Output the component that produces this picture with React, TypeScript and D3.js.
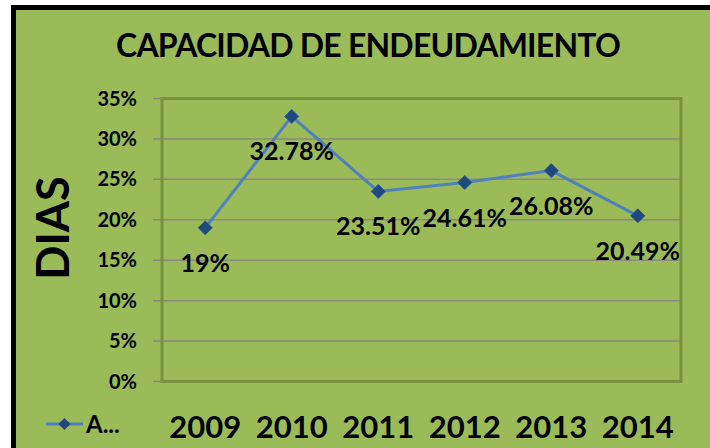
import React from "react";
import * as d3 from "d3";

const categories = ["2009", "2010", "2011", "2012", "2013", "2014"];
const values = [19, 32.78, 23.51, 24.61, 26.08, 20.49];
const valueLabels = ["19%", "32.78%", "23.51%", "24.61%", "26.08%", "20.49%"];
const yTicks = [0, 5, 10, 15, 20, 25, 30, 35];
const title = "CAPACIDAD DE ENDEUDAMIENTO";
const yTitle = "DIAS";
const legendLabel = "A...";

const W = 710;
const H = 448;
const FONT = "Lato, 'Open Sans', sans-serif";

export default function App() {
  const plot = { left: 162, top: 98.5, right: 681, bottom: 381.5 };
  const x = d3
    .scaleBand<string>()
    .domain(categories)
    .range([plot.left, plot.right])
    .padding(0);
  const y = d3.scaleLinear().domain([0, 35]).range([plot.bottom, plot.top]);
  const cx = (c: string) => (x(c) as number) + x.bandwidth() / 2;

  const line = d3
    .line<number>()
    .x((_, i) => cx(categories[i]))
    .y((d) => y(d));

  const diamond = (px: number, py: number, r: number) =>
    `M${px},${py - r}L${px + r},${py}L${px},${py + r}L${px - r},${py}Z`;

  return (
    <div style={{ position: "absolute", left: 0, top: 0 }}>
      <svg width={W} height={H} style={{ display: "block" }}>
        <rect x={0} y={0} width={W} height={H} fill="#ffffff" />
        <rect x={13.5} y={7.5} width={W + 20} height={H + 20} fill="#9bbb59" stroke="#000" strokeWidth={5} />
        <text
          x={368}
          y={57}
          textAnchor="middle"
          fontFamily={FONT}
          fontWeight={700}
          fontSize={32}
          letterSpacing={-0.8}
          fill="#000"
        >
          {title}
        </text>
        {yTicks.map((t) => (
          <g key={t}>
            <line x1={153} x2={plot.right} y1={y(t)} y2={y(t)} stroke="#8a8a80" strokeWidth={1.5} />
            <text
              x={137}
              y={y(t) + 7}
              textAnchor="end"
              fontFamily={FONT}
              fontWeight={700}
              fontSize={20}
              fill="#000"
            >
              {t}%
            </text>
          </g>
        ))}
        <rect
          x={plot.left}
          y={plot.top}
          width={plot.right - plot.left}
          height={plot.bottom - plot.top}
          fill="none"
          stroke="#76923c"
          strokeWidth={3}
        />
        <text
          transform={`translate(69,228) rotate(-90)`}
          textAnchor="middle"
          fontFamily={FONT}
          fontWeight={700}
          fontSize={45}
          fill="#000"
        >
          {yTitle}
        </text>
        <path d={line(values) as string} fill="none" stroke="#4f81bd" strokeWidth={3} />
        {values.map((v, i) => (
          <path key={i} d={diamond(cx(categories[i]), y(v), 7)} fill="#1f497d" stroke="#2a5a94" strokeWidth={1} />
        ))}
        {values.map((v, i) => (
          <text
            key={i}
            x={cx(categories[i])}
            y={y(v) + 44}
            textAnchor="middle"
            fontFamily={FONT}
            fontWeight={700}
            fontSize={25}
            fill="#000"
          >
            {valueLabels[i]}
          </text>
        ))}
        {categories.map((c) => (
          <text
            key={c}
            x={cx(c)}
            y={438}
            textAnchor="middle"
            fontFamily={FONT}
            fontWeight={700}
            fontSize={31}
            fill="#000"
          >
            {c}
          </text>
        ))}
        <line x1={46} x2={83} y1={424} y2={424} stroke="#4f81bd" strokeWidth={3} />
        <path d={diamond(64.5, 424, 6)} fill="#1f497d" />
        <text x={86} y={433} fontFamily={FONT} fontWeight={700} fontSize={24} fill="#000">
          {legendLabel}
        </text>
      </svg>
    </div>
  );
}
